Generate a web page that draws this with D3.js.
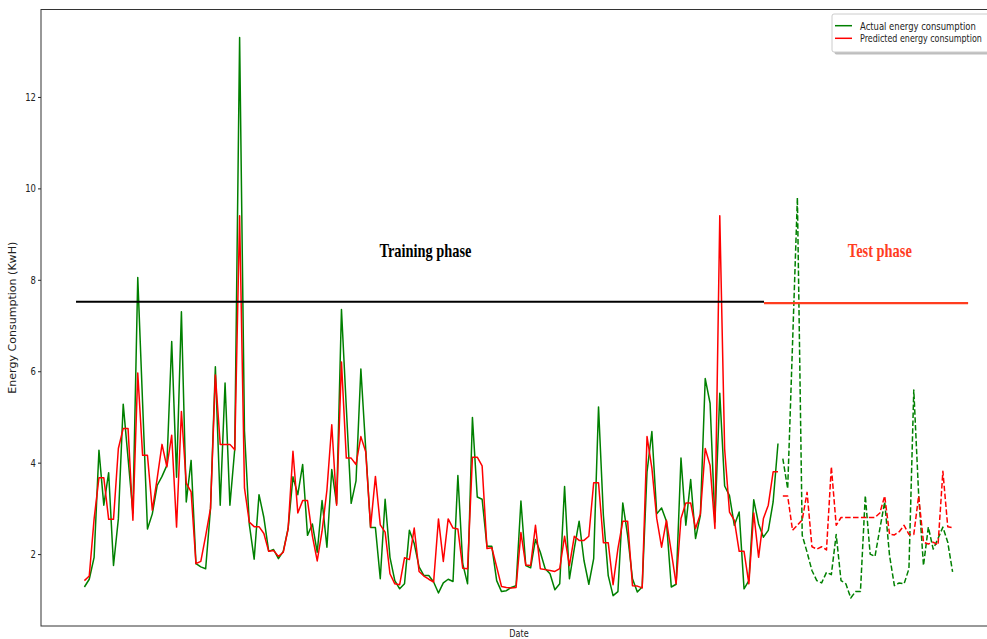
<!DOCTYPE html>
<html>
<head>
<meta charset="utf-8">
<script src="https://cdn.jsdelivr.net/npm/d3@7"></script>
<style>
  body { margin: 0; background: #fff; }
  svg { display: block; font-family: "DejaVu Sans", sans-serif; }
</style>
</head>
<body>
<svg id="chart" width="987" height="639"></svg>
<script>
'use strict';

// daily energy use (KwH)
const actualTrain = [
  1.28, 1.45, 1.93, 4.27, 3.07, 3.78, 1.75, 2.77, 5.28, 4.1,
  2.9, 8.05, 5.3, 2.55, 2.88, 3.5, 3.7, 3.94, 6.65, 3.68,
  7.3, 3.14, 4.05, 1.79, 1.72, 1.68, 3.0, 6.1, 3.07, 5.74,
  3.07, 4.3, 13.3, 4.7, 2.65, 1.89, 3.3, 2.8, 2.06, 2.1,
  1.9, 2.06, 2.56, 3.69, 3.3, 3.96, 2.41, 2.66, 2.04, 3.17,
  2.15, 3.85, 3.1, 7.35, 5.2, 3.11, 3.6, 6.05, 4.3, 2.58,
  2.58, 1.46, 3.2, 1.93, 1.42, 1.24, 1.35, 2.52, 2.23, 1.72,
  1.53, 1.53, 1.39, 1.15, 1.37, 1.45, 1.4, 3.72, 1.79, 1.35,
  4.99, 3.25, 3.2, 2.17, 2.17, 1.42, 1.18, 1.2, 1.27, 1.31,
  3.16, 1.75, 1.7, 2.32, 2.04, 1.68, 1.57, 1.22, 1.35, 3.48,
  1.46, 2.12, 2.72, 1.86, 1.34, 1.9, 5.22, 2.85, 1.53, 1.09,
  1.18, 3.12, 2.41, 1.46, 1.17, 1.28, 3.8, 4.68, 2.88, 3.01,
  2.72, 1.28, 1.34, 4.1, 2.63, 3.63, 2.34, 2.85, 5.84, 5.3,
  2.7, 5.52, 3.49, 3.28, 2.63, 2.92, 1.24, 1.42, 3.19, 2.66,
  2.37, 2.52, 3.14, 4.42
];
const predTrain = [
  1.42, 1.52, 2.77, 3.67, 3.67, 2.76, 2.76, 4.31, 4.75, 4.75,
  2.74, 5.96, 4.16, 4.16, 2.96, 3.65, 4.4, 3.91, 4.6, 2.59,
  5.12, 3.55, 3.36, 1.79, 1.84, 2.4, 3.0, 5.92, 4.4, 4.4,
  4.4, 4.28, 9.4, 3.45, 2.7, 2.6, 2.6, 2.45, 2.06, 2.08,
  1.95, 2.04, 2.55, 4.25, 2.9, 3.17, 3.17, 2.4, 1.85, 2.5,
  3.4, 4.83, 3.07, 6.2, 4.1, 4.1, 3.96, 4.57, 4.24, 2.59,
  3.7, 2.64, 2.48, 1.57, 1.35, 1.33, 1.92, 1.88, 2.57, 1.62,
  1.52, 1.45, 1.39, 2.77, 1.84, 2.77, 2.57, 2.55, 1.69, 1.68,
  4.12, 4.12, 3.93, 2.12, 2.14, 1.72, 1.29, 1.27, 1.26, 1.27,
  2.47, 1.76, 1.75, 2.63, 1.68, 1.66, 1.64, 1.62, 1.68, 2.39,
  1.75, 2.39, 2.3, 2.3, 2.39, 3.56, 3.56, 2.25, 2.25, 1.33,
  2.12, 2.72, 2.72, 1.31, 1.3, 1.26, 4.57, 3.88, 2.78, 2.15,
  2.74, 2.05, 1.35, 2.78, 3.12, 3.12, 2.56, 2.88, 4.31, 3.94,
  2.56, 9.4, 4.3, 2.92, 2.74, 2.06, 2.06, 1.35, 2.9, 1.93,
  2.78, 3.07, 3.8, 3.8
];
const actualTest = [
  4.09, 3.43, 6.6, 9.8, 2.41, 2.04, 1.64, 1.42, 1.37, 1.6,
  1.55, 2.43, 1.42, 1.35, 1.04, 1.18, 1.18, 3.28, 2.0, 1.95,
  2.55, 3.14, 1.97, 1.31, 1.37, 1.35, 1.68, 5.59, 3.3, 1.75,
  2.59, 2.11, 2.34, 2.59, 2.26, 1.61
];
const predTest = [
  3.27, 3.27, 2.52, 2.63, 2.75, 3.35, 2.16, 2.11, 2.16, 2.09,
  3.91, 2.63, 2.8, 2.8, 2.8, 2.8, 2.8, 2.8, 2.8, 2.8,
  2.9, 3.27, 2.43, 2.42, 2.49, 2.63, 2.43, 2.43, 3.27, 2.26,
  2.22, 2.26, 2.2, 3.81, 2.6, 2.58
];
const yTicks = [2, 4, 6, 8, 10, 12];
const seriesNames = ['Actual energy consumption', 'Predicted energy consumption'];
const phaseNames = ['Training phase', 'Test phase'];

const svg = d3.select('#chart');
const W = 987, H = 639;
const plot = { left: 41, right: 996, top: 9.5, bottom: 626 };
const GREEN = '#008000', RED = '#ff0000', ORANGE = '#ff3d1f';
// the picture is squashed sideways, so text is narrowed to match
const squash = 0.77;

svg.append('rect').attr('width', W).attr('height', H).attr('fill', '#fff');

const nTrain = actualTrain.length;
const nAll = nTrain + actualTest.length;
const trainIdx = d3.range(nTrain);
const testIdx = d3.range(nTrain, nAll);

// matplotlib style 5% margins on both axes
const xMax = nAll - 1;
const x = d3.scaleLinear()
  .domain([-0.05 * xMax, xMax * 1.05])
  .range([plot.left, plot.right]);
const allVals = actualTrain.concat(predTrain, actualTest, predTest);
const [lo, hi] = d3.extent(allVals);
const pad = (hi - lo) * 0.05;
const y = d3.scaleLinear()
  .domain([lo - pad, hi + pad])
  .range([plot.bottom, plot.top]);

const narrow = function (sel, f) {
  sel.each(function () {
    const w = this.getComputedTextLength();
    d3.select(this).attr('textLength', w * f).attr('lengthAdjust', 'spacingAndGlyphs');
  });
};

const line = d3.line().x((d) => x(d[0])).y((d) => y(d[1]));

const drawSeries = function (idx, vals, color, dashed) {
  svg.append('path')
    .datum(idx.map((d, i) => [d, vals[i]]))
    .attr('fill', 'none')
    .attr('stroke', color)
    .attr('stroke-width', 1.5)
    .attr('stroke-linejoin', 'round')
    .attr('stroke-dasharray', dashed ? '5.5,2.4' : null)
    .attr('d', line);
};

drawSeries(trainIdx, actualTrain, GREEN, false);
drawSeries(trainIdx, predTrain, RED, false);
drawSeries(testIdx, actualTest, GREEN, true);
drawSeries(testIdx, predTest, RED, true);

// phase markers (in data units)
const phases = [
  { from: -1.73, to: 140.12, level: 7.52, textAt: 70.3, color: '#000', width: 92 },
  { from: 140.12, to: 182.2, level: 7.49, textAt: 164.0, color: ORANGE, width: 64 },
];
phases.forEach((p, i) => {
  svg.append('line')
    .attr('x1', x(p.from)).attr('x2', x(p.to))
    .attr('y1', y(p.level)).attr('y2', y(p.level))
    .attr('stroke', p.color)
    .attr('stroke-width', 2.2);
  svg.append('text')
    .attr('x', x(p.textAt))
    .attr('y', y(8.5))
    .attr('text-anchor', 'middle')
    .attr('font-family', '"Liberation Serif", "Times New Roman", serif')
    .attr('font-weight', 'bold')
    .attr('font-size', '19px')
    .attr('fill', p.color)
    .attr('textLength', p.width)
    .attr('lengthAdjust', 'spacingAndGlyphs')
    .text(phaseNames[i]);
});

// y axis
const yAxis = svg.append('g')
  .attr('transform', `translate(${plot.left},0)`)
  .call(d3.axisLeft(y).tickValues(yTicks).tickSize(3).tickPadding(2).tickFormat(d3.format('d')));
yAxis.select('.domain').remove();
yAxis.selectAll('line').attr('stroke', '#222');
yAxis.selectAll('text')
  .attr('font-size', '11px')
  .attr('font-family', '"DejaVu Sans", sans-serif')
  .attr('fill', '#222')
  .call(narrow, squash);

// frame
svg.append('rect')
  .attr('x', plot.left).attr('y', plot.top)
  .attr('width', plot.right - plot.left).attr('height', plot.bottom - plot.top)
  .attr('fill', 'none')
  .attr('stroke', '#333')
  .attr('stroke-width', 1);

svg.append('text')
  .attr('transform', `translate(16,${(plot.top + plot.bottom) / 2}) rotate(-90)`)
  .attr('text-anchor', 'middle')
  .attr('font-size', '11px')
  .attr('fill', '#222')
  .attr('textLength', 152)
  .attr('lengthAdjust', 'spacingAndGlyphs')
  .text('Energy Consumption (KwH)');

svg.append('text')
  .attr('x', 519)
  .attr('y', 636.5)
  .attr('text-anchor', 'middle')
  .attr('font-size', '10.5px')
  .attr('fill', '#222')
  .text('Date')
  .call(narrow, squash);

// legend with shadow; the frame runs past the picture edge as in the source
const lg = svg.append('g').attr('transform', 'translate(832,14)');
lg.append('rect')
  .attr('x', 2.5).attr('y', 2.5).attr('width', 160).attr('height', 38).attr('rx', 2)
  .attr('fill', '#888').attr('opacity', 0.55);
lg.append('rect')
  .attr('width', 160).attr('height', 38).attr('rx', 2)
  .attr('fill', '#fff').attr('stroke', '#ccc').attr('stroke-width', 1);
const legendWidths = [116, 122];
seriesNames.forEach((name, i) => {
  const cy = 11.7 + i * 12.6;
  lg.append('line')
    .attr('x1', 3).attr('x2', 20).attr('y1', cy).attr('y2', cy)
    .attr('stroke', [GREEN, RED][i]).attr('stroke-width', 1.5);
  const t = lg.append('text')
    .attr('font-size', '11px')
    .attr('fill', '#222')
    .text(name);
  // narrow the glyphs with a transform so the box really ends inside the picture
  const sx = legendWidths[i] / t.node().getComputedTextLength();
  t.attr('transform', `translate(28,${cy + 3.9}) scale(${sx},1)`);
});
</script>
</body>
</html>
